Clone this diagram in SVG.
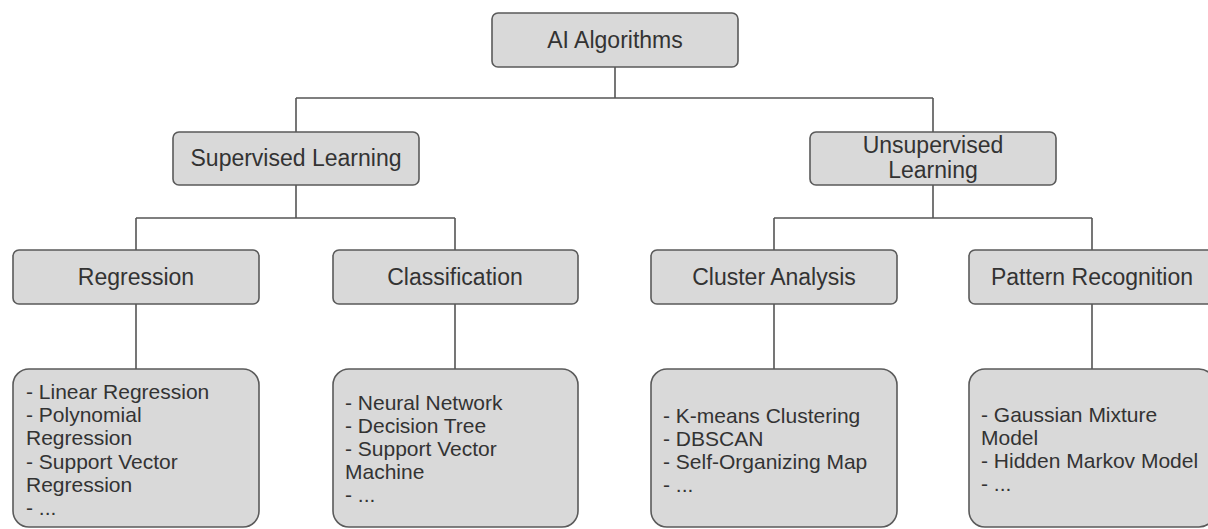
<svg xmlns="http://www.w3.org/2000/svg" width="1208" height="529" viewBox="0 0 1208 529">
<style>
.box{fill:#d9d9d9;stroke:#5a5a5a;stroke-width:1.6}
.t{font-family:"Liberation Sans",Arial,sans-serif;font-size:23px;fill:#333;text-anchor:middle}
.l{font-family:"Liberation Sans",Arial,sans-serif;font-size:21px;fill:#333}
.c{fill:none;stroke:#555;stroke-width:1.6}
</style>
<rect width="1208" height="529" fill="#fff"/>
<g id="connectors" class="c">
<path d="M615 67V98M296 98H933M296 98V132M933 98V132"/>
<path d="M296 185V218M136 218H455M136 218V250M455 218V250"/>
<path d="M933 185V218M774 218H1092M774 218V250M1092 218V250"/>
<path d="M136 304V369M455 304V369M774 304V369M1092 304V369"/>
</g>
<g id="ai">
<rect class="box" x="492" y="13" width="246" height="54" rx="6"/>
<text class="t" x="615" y="48">AI Algorithms</text>
</g>
<g id="supervised">
<rect class="box" x="173" y="132" width="246" height="53" rx="6"/>
<text class="t" x="296" y="166">Supervised Learning</text>
</g>
<g id="unsupervised">
<rect class="box" x="810" y="132" width="246" height="53" rx="6"/>
<text class="t" x="933" y="153">Unsupervised</text>
<text class="t" x="933" y="178">Learning</text>
</g>
<g id="regression">
<rect class="box" x="13" y="250" width="246" height="54" rx="6"/>
<text class="t" x="136" y="285">Regression</text>
</g>
<g id="classification">
<rect class="box" x="333" y="250" width="245" height="54" rx="6"/>
<text class="t" x="455" y="285">Classification</text>
</g>
<g id="cluster">
<rect class="box" x="651" y="250" width="246" height="54" rx="6"/>
<text class="t" x="774" y="285">Cluster Analysis</text>
</g>
<g id="pattern">
<rect class="box" x="969" y="250" width="246" height="54" rx="6"/>
<text class="t" x="1092" y="285">Pattern Recognition</text>
</g>
<g id="regression-list">
<rect class="box" x="13" y="369" width="246" height="158" rx="16"/>
<text class="l" x="26" y="399">- Linear Regression</text>
<text class="l" x="26" y="422">- Polynomial</text>
<text class="l" x="26" y="445">Regression</text>
<text class="l" x="26" y="469">- Support Vector</text>
<text class="l" x="26" y="492">Regression</text>
<text class="l" x="26" y="515">- ...</text>
</g>
<g id="classification-list">
<rect class="box" x="333" y="369" width="245" height="158" rx="16"/>
<text class="l" x="345" y="410">- Neural Network</text>
<text class="l" x="345" y="433">- Decision Tree</text>
<text class="l" x="345" y="456">- Support Vector</text>
<text class="l" x="345" y="479">Machine</text>
<text class="l" x="345" y="502">- ...</text>
</g>
<g id="cluster-list">
<rect class="box" x="651" y="369" width="246" height="158" rx="16"/>
<text class="l" x="663" y="423">- K-means Clustering</text>
<text class="l" x="663" y="446">- DBSCAN</text>
<text class="l" x="663" y="469">- Self-Organizing Map</text>
<text class="l" x="663" y="492">- ...</text>
</g>
<g id="pattern-list">
<rect class="box" x="969" y="369" width="246" height="158" rx="16"/>
<text class="l" x="981" y="422">- Gaussian Mixture</text>
<text class="l" x="981" y="445">Model</text>
<text class="l" x="981" y="468">- Hidden Markov Model</text>
<text class="l" x="981" y="491">- ...</text>
</g>
</svg>
